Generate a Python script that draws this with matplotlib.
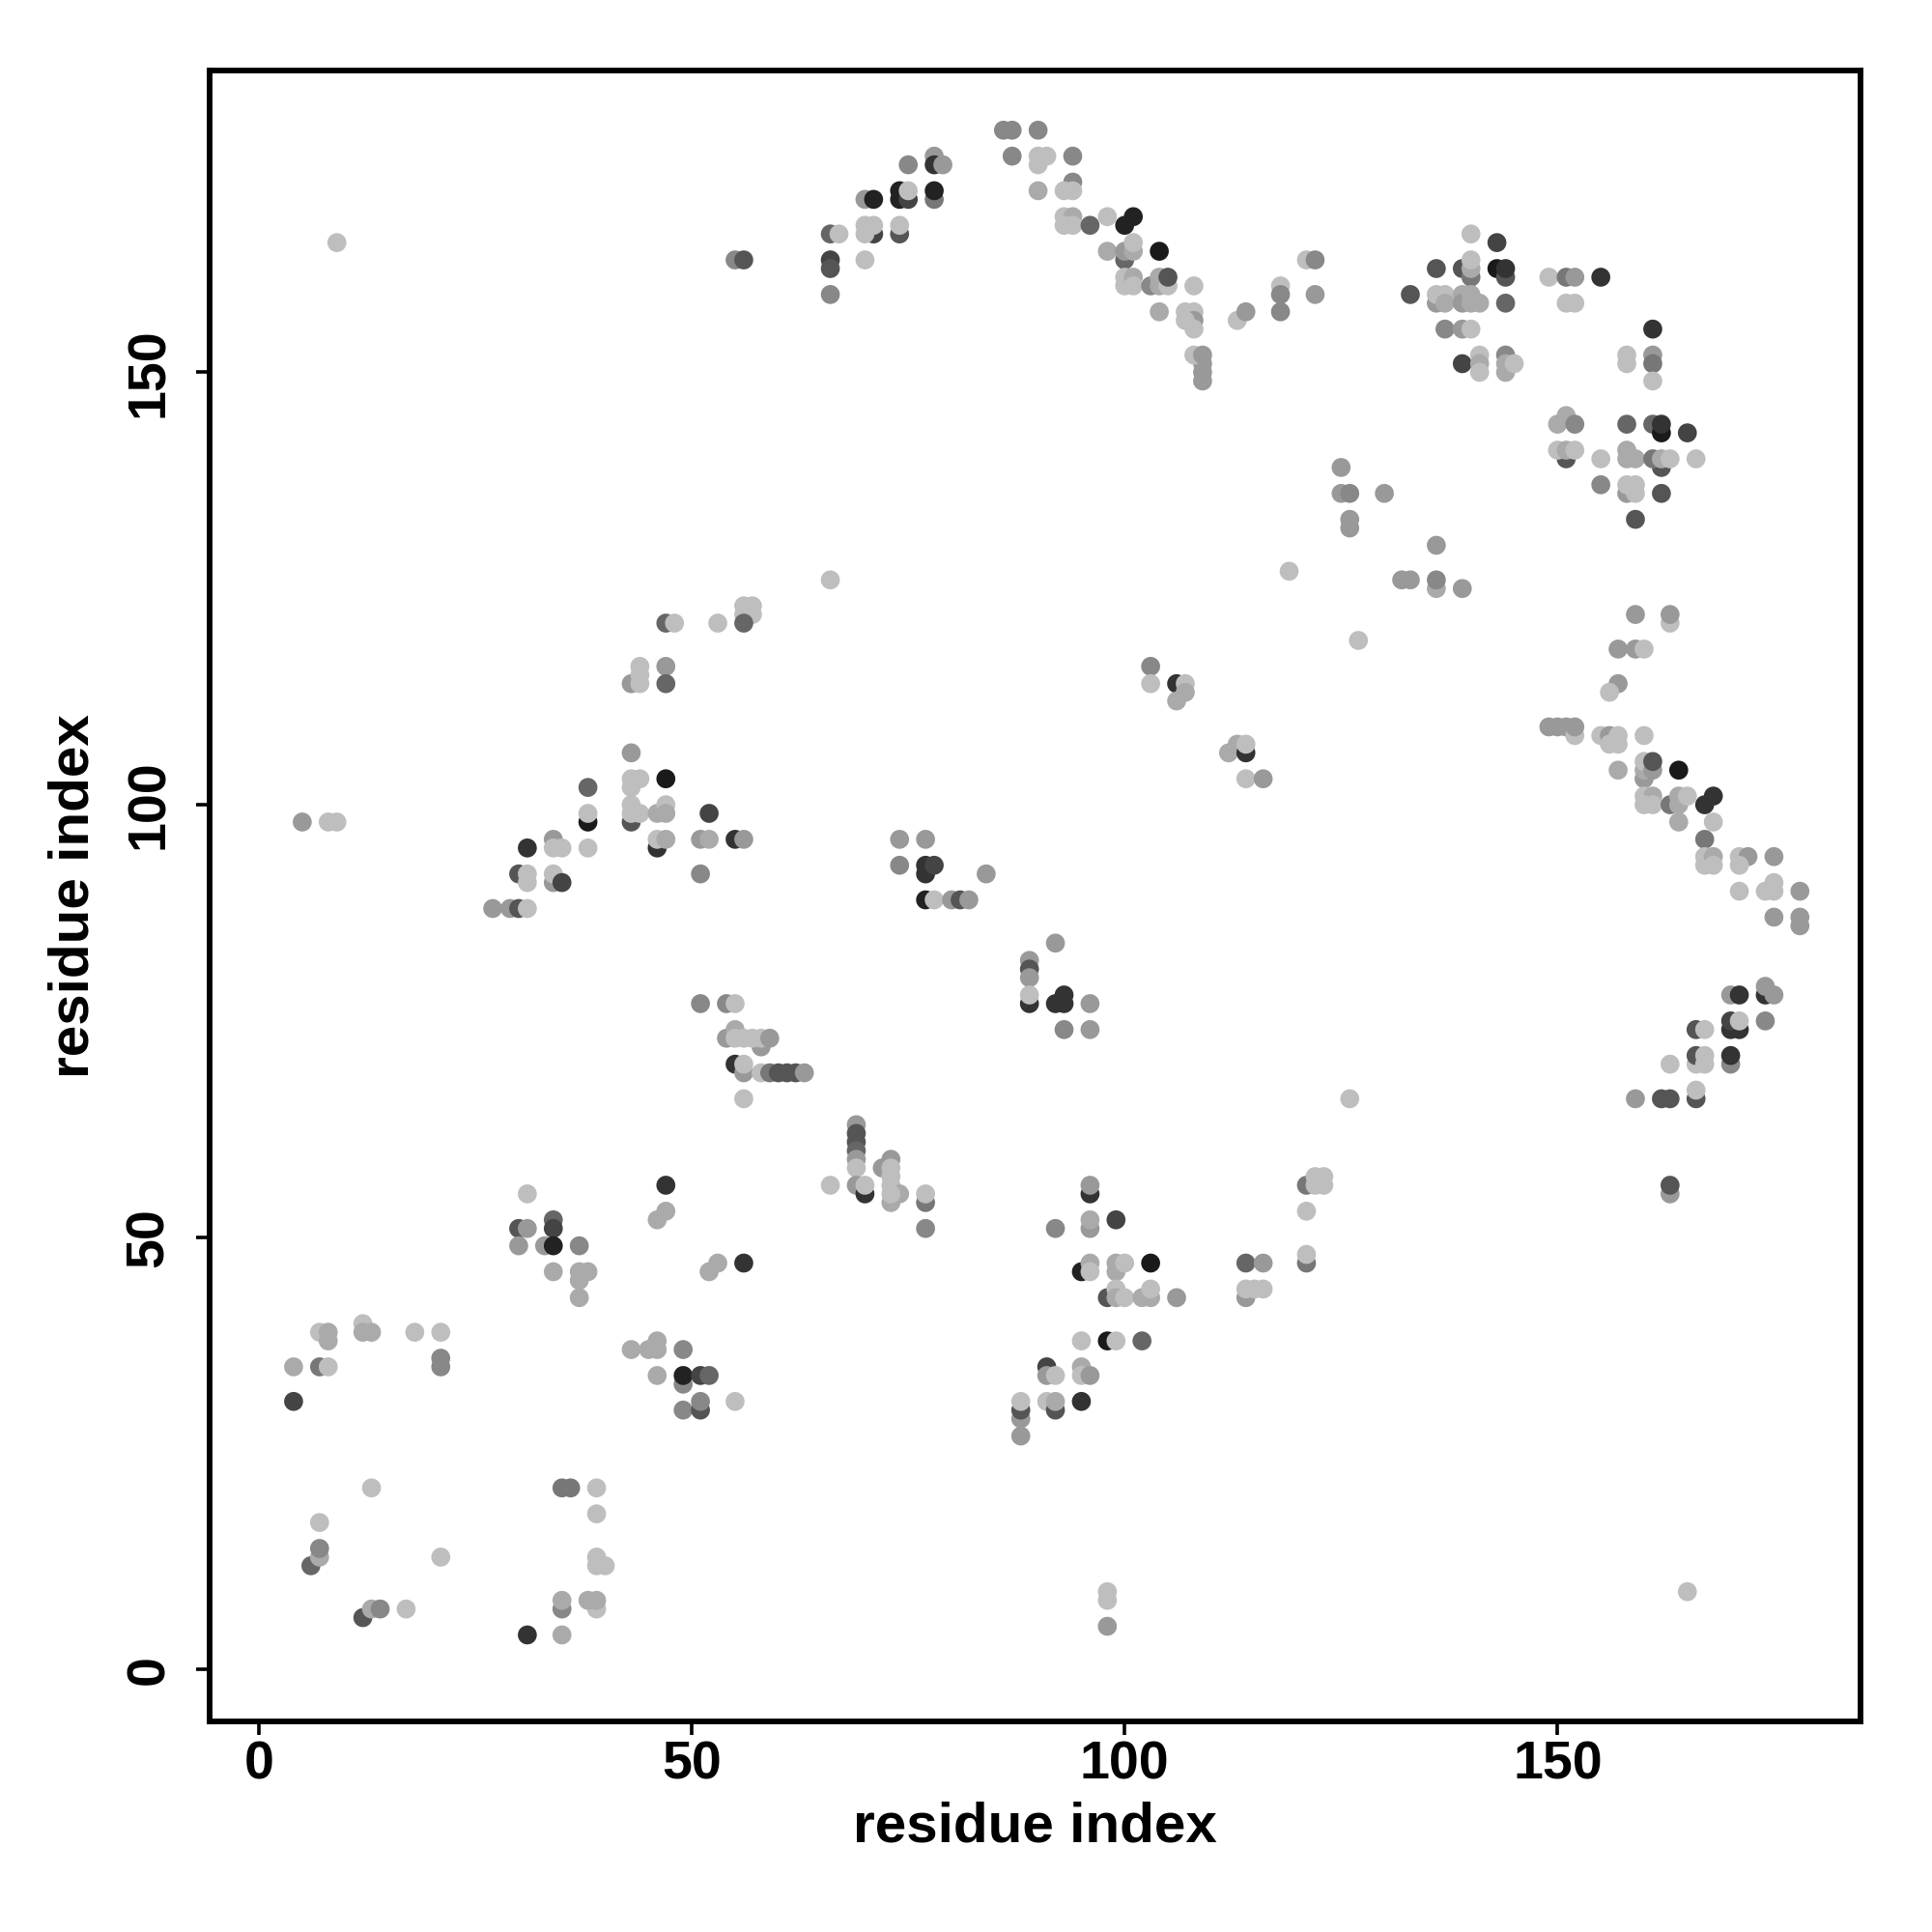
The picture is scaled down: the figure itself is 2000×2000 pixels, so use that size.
import matplotlib
matplotlib.use("Agg")
import matplotlib.pyplot as plt

# gray intensity levels (0 = black, 255 = white)
L, A, N, E, S, G6, G5, G4, G3, G2, G1 = 190, 170, 153, 136, 119, 102, 85, 68, 51, 34, 26

pts = [
    (9,165,L),
    (86,178,E),(87,178,E),(90,178,E),(87,175,E),(90,175,L),(91,175,L),(90,174,L),(90,171,A),
    (75,174,E),(78,175,N),(78,174,G3),(79,174,N),
    (70,170,N),(71,170,G2),
    (74,171,G2),(74,170,G2),(75,170,G4),(75,171,L),
    (78,170,S),(78,171,G2),
    (66,166,G6),(67,166,L),
    (71,166,G4),(70,167,L),(71,167,L),(70,166,L),
    (74,166,G5),(74,167,L),
    (66,163,G4),(66,162,G5),(70,163,L),(66,159,E),
    (55,163,E),(56,163,G5),
    (66,126,L),
    (56,123,L),(57,123,L),(56,122,L),(57,122,L),
    (53,121,L),(47,121,G6),(48,121,L),(56,121,G6),
    (94,175,E),(94,172,E),(93,171,L),(94,171,L),
    (93,168,L),(94,168,A),(93,167,L),(94,167,L),(96,167,G6),(98,168,L),
    (100,167,G2),(101,168,G2),
    (98,164,A),(100,163,G6),(100,164,N),(101,164,A),(101,165,L),(104,164,G1),
    (100,161,L),(100,160,L),(101,161,A),(101,160,L),
    (103,160,E),(104,161,A),(104,160,A),(105,160,L),(105,161,G5),
    (108,160,L),
    (104,157,A),(107,157,L),(108,157,L),(108,156,N),(107,156,L),(108,155,L),
    (109,149,N),(109,150,N),(109,151,N),(108,152,L),(109,152,N),
    (113,156,L),(114,157,N),
    (118,160,L),(118,159,E),(118,157,E),
    (121,163,L),(122,163,E),(122,159,N),
    (125,139,N),(125,136,N),(126,136,E),(130,136,N),(126,132,N),(126,133,N),
    (119,127,L),(132,126,N),(133,126,N),(136,130,N),(136,125,A),(136,126,E),(139,125,N),
    (133,159,G5),(136,162,G5),(136,158,N),(136,159,L),(137,159,L),(137,158,A),(137,155,E),
    (140,166,L),(143,165,G4),
    (139,162,G5),(140,161,S),(140,162,A),(140,163,L),
    (143,162,G1),(144,161,G5),(144,162,G3),
    (139,159,A),(139,158,N),(140,159,A),(140,158,A),(141,158,A),
    (144,158,G6),
    (139,155,N),(140,155,L),
    (139,151,G4),(141,152,L),(141,151,A),(141,150,L),
    (144,152,E),(144,150,A),(144,151,A),(145,151,L),
    (149,161,L),(151,161,S),(152,161,N),(155,161,G3),
    (151,158,L),(152,158,L),
    (161,155,G3),
    (158,152,L),(158,151,L),(161,152,N),(161,151,S),(161,149,L),
    (151,145,A),(150,144,A),(152,144,E),
    (151,140,G5),(150,141,L),(151,141,A),(152,141,L),
    (155,140,L),(155,137,E),
    (158,144,G6),
    (158,141,A),(158,140,A),(159,140,A),
    (158,136,N),(158,137,L),(159,137,L),(159,136,L),
    (159,133,G5),
    (161,144,G6),(162,143,G1),(162,144,G3),(165,143,G4),
    (162,139,G5),(161,140,S),(162,140,A),(163,140,L),
    (166,140,L),(162,136,G5),
    (159,122,N),(163,121,L),(163,122,N),
    (5,98,N),(8,98,L),(9,98,L),
    (38,102,G6),(38,98,G1),(38,99,L),(38,95,L),
    (31,95,G3),(34,96,N),(34,95,L),(35,95,L),
    (30,92,G5),(31,92,L),(31,91,L),
    (34,91,N),(34,92,L),(35,91,G4),
    (27,88,N),(29,88,N),(30,88,G5),(31,88,L),
    (43,114,N),(44,116,L),(44,115,L),(44,114,L),(47,116,N),(47,114,G6),
    (43,106,N),
    (43,103,L),(44,103,L),(43,102,L),(47,103,G1),
    (43,98,G5),(43,100,L),(43,99,L),(44,99,L),(46,99,A),(47,100,L),(47,99,A),
    (52,99,G4),
    (46,95,G3),(46,96,L),(47,96,A),
    (51,96,N),(52,96,A),(55,96,G3),(56,96,N),
    (51,92,E),
    (74,96,N),(77,96,N),(74,93,E),(77,92,G3),(77,93,G3),(78,93,G4),(84,92,N),
    (77,89,G2),(78,89,L),(80,89,N),(81,89,G5),(82,89,N),
    (92,84,N),
    (89,82,N),(89,81,G5),(89,80,N),(89,77,G3),(89,78,L),
    (51,77,E),(54,77,E),(55,77,L),
    (58,72,N),(54,73,N),(55,74,A),(55,73,L),(56,73,L),(57,73,L),(58,73,L),(59,73,N),
    (55,70,G3),(56,69,N),(56,70,L),(58,69,L),(59,69,S),(60,69,G5),(61,69,G5),(62,69,G5),(63,69,N),
    (56,66,L),
    (69,63,N),(69,62,G5),(69,61,G5),(69,60,G6),(69,59,N),(69,58,L),
    (73,59,N),(72,58,N),(73,58,L),
    (127,119,L),(103,116,E),(103,114,L),(106,114,G3),(107,114,L),(106,112,A),(107,113,A),
    (112,106,A),(113,107,A),(114,106,G3),(114,107,L),
    (114,103,L),(116,103,N),
    (92,77,G3),(93,78,G3),(93,77,G3),(96,77,N),(93,74,E),(96,74,N),
    (126,66,L),
    (121,56,S),(122,57,L),(123,57,L),(122,56,L),(123,56,L),
    (47,56,G3),(47,53,A),(46,52,A),(53,47,A),(52,46,A),(56,47,G3),
    (66,56,L),(69,56,N),(70,55,G3),(70,56,L),
    (73,57,L),(73,56,L),(74,55,A),(73,54,A),(73,55,L),
    (77,54,S),(77,55,L),(77,51,E),(92,51,E),
    (43,37,A),(45,37,A),(46,38,A),(46,37,A),(49,37,E),
    (46,34,A),(49,33,E),(49,34,G2),(51,34,G4),(52,34,G6),
    (49,30,E),(51,30,G5),(51,31,E),(55,31,L),
    (88,27,N),(88,29,N),(88,30,G5),(88,31,L),
    (31,55,L),
    (30,51,G5),(31,51,N),(34,52,G6),(34,51,G4),(30,49,N),(33,49,N),(34,49,G2),(37,49,E),
    (34,46,A),(37,43,A),(37,45,A),(37,46,A),(38,46,A),
    (7,39,L),(8,38,A),(8,39,A),
    (12,40,L),(12,39,A),(13,39,A),
    (18,39,L),(21,39,L),(21,35,E),(21,36,E),
    (4,35,A),(7,35,S),(8,35,L),(4,31,G4),
    (13,21,L),(7,17,L),(6,12,G6),(7,13,A),(7,14,E),(21,13,L),
    (12,6,G5),(13,7,A),(14,7,E),(17,7,L),
    (35,21,S),(36,21,S),(39,21,L),(39,18,L),(39,13,L),(39,12,L),(40,12,L),
    (35,7,E),(35,8,A),(39,7,L),(38,8,A),(39,8,A),
    (31,4,G3),(35,4,A),
    (96,55,G3),(96,56,N),(96,51,N),(96,52,A),(99,52,G4),
    (95,46,G2),(96,47,A),(96,46,L),(99,46,A),(99,47,A),(100,47,L),(103,47,G1),
    (98,43,G5),(99,44,L),(99,43,A),(100,43,L),(102,43,A),(103,43,A),(103,44,L),(106,43,N),
    (95,38,L),(98,38,G1),(99,38,L),(102,38,G6),
    (91,35,G4),(91,34,N),(92,34,L),(95,35,A),(95,34,L),(96,34,N),
    (91,31,L),(92,30,G5),(92,31,A),(95,31,G3),
    (114,47,G6),(116,47,N),(114,43,N),(114,44,L),(115,44,L),(116,44,L),
    (121,53,L),(121,47,S),(121,48,L),
    (98,9,L),(98,8,L),(98,5,N),
    (163,55,N),(163,56,G5),(165,9,L),
    (157,118,N),(159,118,N),(160,118,L),
    (157,114,N),(156,113,L),
    (149,109,N),(150,109,N),(151,109,N),(152,108,L),(152,109,N),
    (155,108,L),(156,108,N),(157,108,L),(156,107,L),(157,107,L),(160,108,L),
    (157,104,A),
    (160,103,N),(160,104,A),(160,105,L),(161,104,N),(161,105,G5),
    (164,104,G1),
    (160,101,L),(161,101,A),(160,100,L),(161,100,L),
    (163,100,S),(164,100,A),(164,101,A),(165,101,L),(164,98,A),
    (167,100,G3),(168,101,G3),(168,98,L),
    (167,96,S),
    (167,94,L),(167,93,L),(168,94,A),(168,93,L),
    (171,94,L),(172,94,N),(171,93,L),(175,94,N),
    (171,90,L),(174,90,L),(175,91,L),(175,90,L),(178,90,N),
    (175,87,N),(178,86,N),(178,87,N),
    (170,78,N),(171,78,G3),(174,78,G3),(174,79,N),(175,78,N),
    (170,74,G3),(171,74,G3),(170,75,G4),(171,75,L),(174,75,E),
    (166,74,G5),(167,74,L),
    (166,70,L),(166,71,G5),(167,71,L),(167,70,L),(170,70,E),(170,71,G3),
    (163,70,L),
    (159,66,N),(162,66,G5),(163,66,G5),(166,66,G5),(166,67,L),
]

res_i = [p[0] for p in pts]
res_j = [p[1] for p in pts]
shade = [p[2] for p in pts]

xticks = [0, 50, 100, 150]
yticks = [0, 50, 100, 150]

plt.rcParams['font.family'] = ['Liberation Sans', 'DejaVu Sans']
plt.rcParams['font.weight'] = 'bold'

fig = plt.figure(figsize=(10, 10), dpi=200)
ax = fig.add_axes([217/2000, 1-1782/2000, (1926-217)/2000, (1782-73)/2000])

colors = [(g/255, g/255, g/255) for g in shade]
ax.scatter(res_i, res_j, c=colors, s=50, linewidths=0)

ax.set_xlim(-5.7, 185.0)
ax.set_ylim(-6.0, 184.9)
ax.set_xticks(xticks)
ax.set_yticks(yticks)
ax.set_xticklabels([str(t) for t in xticks], fontsize=20, fontweight='bold')
ax.set_yticklabels([str(t) for t in yticks], fontsize=20, fontweight='bold',
                   rotation=90, va='center')
ax.tick_params(axis='both', length=5, width=1.3, color='black', direction='out')
ax.tick_params(axis='x', pad=2)
ax.tick_params(axis='y', pad=8)
for sp in ax.spines.values():
    sp.set_linewidth(2.1)
    sp.set_color('black')

ax.set_xlabel('residue index', fontsize=21, fontweight='bold', labelpad=4)
ax.set_ylabel('residue index', fontsize=21, fontweight='bold', labelpad=9)

fig.savefig('out.png', dpi=200, facecolor='white')
